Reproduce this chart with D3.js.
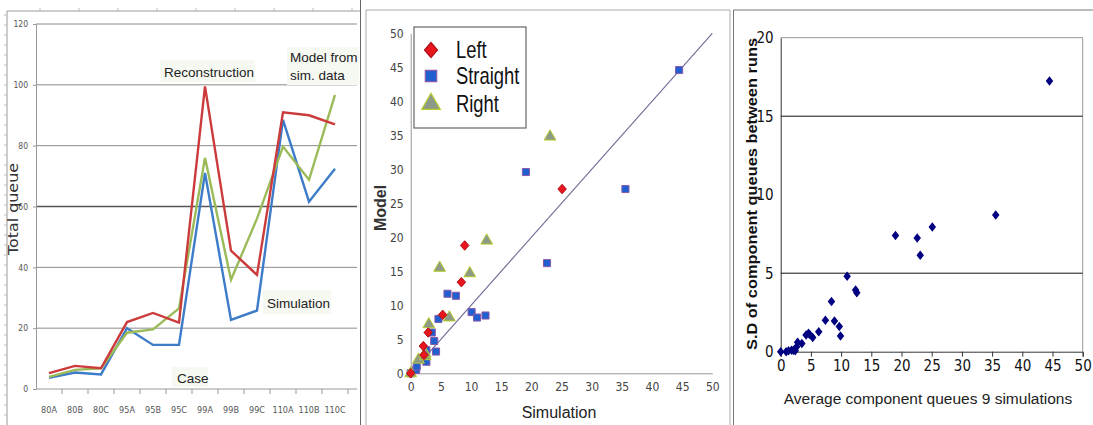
<!DOCTYPE html>
<html>
<head>
<meta charset="utf-8">
<script src="https://cdn.jsdelivr.net/npm/d3@7"></script>
<style>
  body { margin: 0; background: #fff; }
  svg { display: block; }
  .narrow { font-family: "Liberation Sans Narrow", "DejaVu Sans Condensed", "Liberation Sans", sans-serif; }
</style>
</head>
<body>
<svg id="chart" width="1093" height="425"></svg>
<script>
// ---- panel 1: total queue per case ----
const cases = ["80A", "80B", "80C", "95A", "95B", "95C", "99A", "99B", "99C", "110A", "110B", "110C"];
const reconstruction = [5.2, 7.6, 6.8, 22, 25, 21.8, 99.5, 45.5, 37.5, 91, 90, 87];
const simulation = [3.7, 5.4, 4.8, 20, 14.5, 14.5, 71, 22.7, 25.8, 88.5, 61.6, 72.4];
const modelFromSim = [4, 6.3, 6.8, 18.5, 19.6, 26.5, 76, 35.9, 56, 79.7, 68.8, 96.7];
const queueTicks = [0, 20, 40, 60, 80, 100, 120];

// ---- panel 2: model vs simulation by turn ----
const leftSim = [0, 2.2, 2.1, 2.9, 5.3, 8.4, 8.95, 25.1];
const leftModel = [0, 2.7, 4.0, 6.0, 8.6, 13.4, 18.8, 27.1];
const straightSim = [0, 0.9, 1.0, 2.6, 2.6, 4.2, 3.9, 3.5, 4.6, 6.1, 7.5, 10.1, 11.0, 12.4, 19.1, 22.6, 35.6, 44.5];
const straightModel = [0, 0.5, 1.0, 1.7, 3.4, 3.2, 4.75, 6.0, 8.0, 11.7, 11.4, 9.0, 8.2, 8.5, 29.6, 16.2, 27.1, 44.6];
const rightSim = [0, 1.3, 2.4, 2.4, 3.0, 6.4, 4.8, 9.8, 12.6, 23.1];
const rightModel = [0, 2.0, 2.5, 2.9, 7.2, 8.2, 15.5, 14.7, 19.5, 34.8];
const turnNames = ["Left", "Straight", "Right"];

// ---- panel 3: spread between runs ----
const avgQueue = [0, 0.9, 1.3, 1.8, 2.1, 2.4, 2.65, 2.8, 3.5, 4.2, 4.6, 4.8, 5.3, 6.3, 7.4, 8.4, 8.9, 9.7, 9.9, 11.0, 12.4, 12.6, 19.0, 22.6, 23.1, 25.1, 35.6, 44.5];
const sdQueue = [0, 0, 0.06, 0.1, 0.1, 0.06, 0.32, 0.6, 0.53, 1.06, 1.17, 1.1, 0.91, 1.27, 2.0, 3.2, 1.95, 1.6, 1.0, 4.8, 3.93, 3.76, 7.4, 7.24, 6.14, 7.94, 8.7, 17.25];

// excel-like diamond: w wide, h tall
const diamond = (w, h) => ({
  draw(ctx) {
    ctx.moveTo(0, -h / 2); ctx.lineTo(w / 2, 0); ctx.lineTo(0, h / 2); ctx.lineTo(-w / 2, 0); ctx.closePath();
  }
});

const svg = d3.select("#chart");
svg.append("rect").attr("width", 1093).attr("height", 425).attr("fill", "#fff");

// ===================== panel 1 =====================
(function () {
  const g = svg.append("g");
  // outer frame with little ruler ticks
  g.append("path").attr("d", "M7,425V11H360").attr("fill", "none").attr("stroke", "#9a9a9a");
  d3.range(15, 425, 10).forEach(y => g.append("line").attr("x1", 4).attr("x2", 7).attr("y1", y).attr("y2", y).attr("stroke", "#bbb"));
  d3.range(40, 360, 39).forEach(x => g.append("line").attr("x1", x).attr("x2", x).attr("y1", 8).attr("y2", 11).attr("stroke", "#bbb"));
  g.append("line").attr("x1", 360.5).attr("x2", 360.5).attr("y1", 0).attr("y2", 425).attr("stroke", "#666");

  const x = d3.scaleBand().domain(cases).range([36, 348]);
  const y = d3.scaleLinear().domain([0, 120]).range([389, 24]);

  queueTicks.filter(t => t > 0).forEach(t => {
    g.append("line").attr("x1", 36).attr("x2", 357).attr("y1", y(t)).attr("y2", y(t))
      .attr("stroke", t === 60 ? "#555" : "#8a8a8a").attr("stroke-width", t === 60 ? 1.6 : 1);
  });

  const yAxis = g.append("g").attr("transform", "translate(36,0)")
    .call(d3.axisLeft(y).tickValues(queueTicks).tickSize(3));
  yAxis.select(".domain").attr("stroke", "#999");
  yAxis.selectAll("line").attr("stroke", "#999");
  yAxis.selectAll("text").attr("x", -8).attr("fill", "#555").attr("font-size", 8.5).attr("class", "narrow");

  const xAxis = g.append("g").attr("transform", "translate(0,389)")
    .call(d3.axisBottom(x).tickSize(0).tickPadding(18));
  xAxis.select(".domain").attr("d", "M36,0H357").attr("stroke", "#999");
  xAxis.selectAll("text").attr("fill", "#555").attr("font-size", 9).attr("class", "narrow");
  cases.forEach(c => g.append("line").attr("x1", x(c) + x.bandwidth()).attr("x2", x(c) + x.bandwidth())
    .attr("y1", 389).attr("y2", 394).attr("stroke", "#999"));

  const line = d3.line().x((d, i) => x(cases[i]) + x.bandwidth() / 2).y(d => y(d));
  [[simulation, "#3d7cc9"], [modelFromSim, "#9bbb59"], [reconstruction, "#cc3b3b"]].forEach(([s, c]) => {
    g.append("path").datum(s).attr("d", line).attr("fill", "none").attr("stroke", c).attr("stroke-width", 2.4);
  });

  // in-plot labels with pale boxes
  const lab = (lines, lx, ly, bx, by, bw, bh) => {
    g.append("rect").attr("x", bx).attr("y", by).attr("width", bw).attr("height", bh).attr("fill", "#f6f9f2");
    lines.forEach((t, i) => g.append("text").attr("x", lx).attr("y", ly + i * 18).text(t)
      .attr("font-family", "Liberation Sans, sans-serif").attr("font-size", 13.5).attr("fill", "#222"));
  };
  lab(["Reconstruction"], 164, 77, 160, 60, 95, 22);
  lab(["Model from", "sim. data"], 290, 62, 287, 47, 72, 38);
  lab(["Simulation"], 267, 308, 263, 290, 68, 24);
  lab(["Case"], 177, 383, 172, 367, 36, 20);

  g.append("text").attr("transform", "translate(18,209) rotate(-90)").attr("text-anchor", "middle")
    .attr("font-family", "DejaVu Sans, sans-serif").attr("font-size", 14).attr("fill", "#333")
    .attr("textLength", 92).attr("lengthAdjust", "spacingAndGlyphs").text("Total queue");
})();

// ===================== panel 2 =====================
(function () {
  const g = svg.append("g");
  g.append("path").attr("d", "M366,425V10H730V425").attr("fill", "none").attr("stroke", "#aaa");

  const x = d3.scaleLinear().domain([0, 50]).range([410.7, 712.3]);
  const y = d3.scaleLinear().domain([0, 50]).range([373.3, 33.3]);
  const ticks = d3.range(0, 51, 5);

  const xAxis = g.append("g").attr("transform", "translate(0,373.3)")
    .call(d3.axisBottom(x).tickValues(ticks).tickSize(0).tickPadding(9));
  xAxis.select(".domain").attr("stroke", "#999");
  xAxis.selectAll("text").attr("fill", "#444").attr("font-size", 12).attr("class", "narrow");

  const yAxis = g.append("g").attr("transform", "translate(410.7,0)")
    .call(d3.axisLeft(y).tickValues(ticks).tickSize(0).tickPadding(7));
  yAxis.select(".domain").attr("stroke", "#999");
  yAxis.selectAll("text").attr("fill", "#444").attr("font-size", 12).attr("class", "narrow");

  g.append("line").attr("x1", x(0)).attr("y1", y(0)).attr("x2", x(50)).attr("y2", y(50))
    .attr("stroke", "#6b6b96").attr("stroke-width", 1.1);

  const pts = (xs, ys) => xs.map((v, i) => [v, ys[i]]);
  const series = [
    { name: turnNames[0], data: pts(leftSim, leftModel), type: diamond(8.5, 9.5), big: diamond(13, 15), fill: "#e8151c", stroke: "#b0101a" },
    { name: turnNames[1], data: pts(straightSim, straightModel), type: d3.symbolSquare, size: 50, bigSize: 130, fill: "#1f5fcf", stroke: "#8a5aa8" },
    { name: turnNames[2], data: pts(rightSim, rightModel), type: d3.symbolTriangle, size: 60, bigSize: 150, fill: "#8e9a88", stroke: "#b7cc2c" }
  ];
  // draw straight first, then right, then left on top
  [series[1], series[2], series[0]].forEach(s => {
    g.selectAll(null).data(s.data).enter().append("path")
      .attr("transform", d => `translate(${x(d[0])},${y(d[1])})`)
      .attr("d", d3.symbol().type(s.type).size(s.size || 64))
      .attr("fill", s.fill).attr("stroke", s.stroke).attr("stroke-width", 1);
  });

  // legend
  g.append("rect").attr("x", 414).attr("y", 27).attr("width", 112).attr("height", 101)
    .attr("fill", "#fff").attr("stroke", "#666").attr("stroke-width", 1.2);
  series.forEach((s, i) => {
    const ly = [50, 76, 104][i];
    g.append("path").attr("transform", `translate(431,${ly})`)
      .attr("d", d3.symbol().type(s.big || s.type).size(s.bigSize || 64))
      .attr("fill", s.fill).attr("stroke", s.stroke).attr("stroke-width", 1.2);
    g.append("text").attr("transform", `translate(456,${ly + 8}) scale(0.8,1)`).text(s.name)
      .attr("font-family", "Liberation Sans, sans-serif").attr("font-size", 23).attr("fill", "#111");
  });

  g.append("text").attr("transform", "translate(386,208) rotate(-90)").attr("text-anchor", "middle")
    .attr("font-family", "Liberation Sans, sans-serif").attr("font-weight", "bold").attr("font-size", 16)
    .attr("fill", "#333").text("Model");
  g.append("text").attr("x", 559).attr("y", 418).attr("text-anchor", "middle")
    .attr("font-family", "Liberation Sans, sans-serif").attr("font-size", 16).attr("fill", "#222").text("Simulation");
})();

// ===================== panel 3 =====================
(function () {
  const g = svg.append("g");
  g.append("path").attr("d", "M733.5,425V10H1093").attr("fill", "none").attr("stroke", "#777");

  const x = d3.scaleLinear().domain([0, 50]).range([780.7, 1082.7]);
  const y = d3.scaleLinear().domain([0, 20]).range([351.7, 37.7]);

  g.append("path").attr("d", `M${x(0)},${y(20)}H${x(50)}V${y(0)}`).attr("fill", "none").attr("stroke", "#999");
  [5, 15].forEach(t => g.append("line").attr("x1", x(0)).attr("x2", x(50)).attr("y1", y(t)).attr("y2", y(t))
    .attr("stroke", "#111").attr("stroke-width", 1));

  const xAxis = g.append("g").attr("transform", `translate(0,${y(0)})`)
    .call(d3.axisBottom(x).tickValues(d3.range(0, 51, 5)).tickSize(5).tickPadding(4));
  xAxis.select(".domain").attr("stroke", "#333");
  xAxis.selectAll("line").attr("stroke", "#333");
  xAxis.selectAll("text").attr("fill", "#111").attr("font-size", 15).attr("class", "narrow");

  const yAxis = g.append("g").attr("transform", `translate(${x(0)},0)`)
    .call(d3.axisLeft(y).tickValues([0, 5, 10, 15, 20]).tickSize(0).tickPadding(7));
  yAxis.select(".domain").attr("stroke", "#333");
  yAxis.selectAll("text").attr("fill", "#111").attr("font-size", 15).attr("class", "narrow");

  g.selectAll(null).data(avgQueue).enter().append("path")
    .attr("transform", (d, i) => `translate(${x(d)},${y(sdQueue[i])})`)
    .attr("d", d3.symbol().type(diamond(7.5, 9.5)))
    .attr("fill", "#000080");

  g.append("text").attr("transform", "translate(757,194) rotate(-90)").attr("text-anchor", "middle")
    .attr("font-family", "Liberation Sans, sans-serif").attr("font-weight", "bold").attr("font-size", 14)
    .attr("fill", "#111").attr("textLength", 312).attr("lengthAdjust", "spacingAndGlyphs")
    .text("S.D of component queues between runs");
  g.append("text").attr("x", 928).attr("y", 404).attr("text-anchor", "middle")
    .attr("font-family", "Liberation Sans, sans-serif").attr("font-size", 15.5).attr("fill", "#222")
    .text("Average component queues 9 simulations");
})();
</script>
</body>
</html>
